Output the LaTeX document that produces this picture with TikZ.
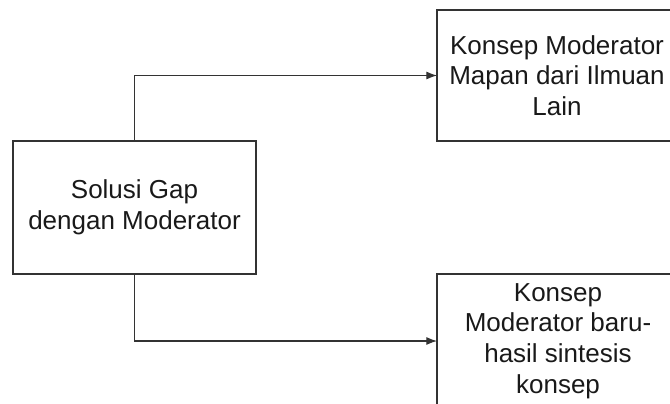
\documentclass[tikz,border=0pt]{standalone}
\usepackage{fontspec}
\setmainfont{Liberation Sans}
\usetikzlibrary{arrows.meta}
\begin{document}
\begin{tikzpicture}[x=0.75pt,y=-0.75pt,
  box/.style={draw=black!80,line width=0.9pt,inner sep=0pt,outer sep=0pt,align=center,
    font=\fontsize{19.5}{23}\selectfont,text=black!90},
  conn/.style={draw=black!80,line width=0.8pt,-{Latex[length=8pt,width=6pt]}}]
\useasboundingbox (0,0) rectangle (670,403);
\clip (0,0) rectangle (670,403);
\node[box,minimum width=182.25pt,minimum height=99.75pt] (L) at (134.5,207.5) {Solusi Gap\\dengan Moderator};
\node[box,minimum width=180pt,minimum height=98.25pt] (T) at (557,75.5) {Konsep Moderator\\Mapan dari Ilmuan\\Lain};
\node[box,minimum width=181.5pt,minimum height=100.5pt] (B) at (558,341) {Konsep\\Moderator baru-\\hasil sintesis\\konsep};
\draw[conn] (L.north) |- (T.west);
\draw[conn] (L.south) |- (B.west);
\end{tikzpicture}
\end{document}
